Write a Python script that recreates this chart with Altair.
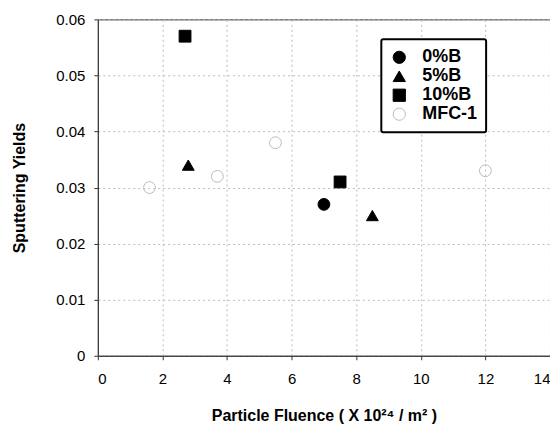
import altair as alt
import pandas as pd

series = ["0%B", "5%B", "10%B", "MFC-1"]
x_0B = [7.0]
y_0B = [0.027]
x_5B = [2.8, 8.5]
y_5B = [0.034, 0.025]
x_10B = [2.7, 7.5]
y_10B = [0.057, 0.031]
x_mfc = [1.6, 3.7, 5.5, 12.0]
y_mfc = [0.030, 0.032, 0.038, 0.033]

rows = []
for name, xs, ys in [("0%B", x_0B, y_0B), ("5%B", x_5B, y_5B),
                     ("10%B", x_10B, y_10B), ("MFC-1", x_mfc, y_mfc)]:
    for a, b in zip(xs, ys):
        rows.append({"series": name, "fluence": a, "yield": b})
df = pd.DataFrame(rows)

FONT = "Liberation Sans"

points = alt.Chart(df).mark_point(size=140, strokeWidth=1, opacity=1).encode(
    x=alt.X("fluence:Q", scale=alt.Scale(domain=[0, 14], nice=False),
            axis=alt.Axis(values=list(range(0, 15, 2)), title="Particle Fluence ( X 10²⁴ / m² )",
                          format="d", labelPadding=12, titlePadding=21)),
    y=alt.Y("yield:Q", scale=alt.Scale(domain=[0, 0.06], nice=False),
            axis=alt.Axis(values=[0, 0.01, 0.02, 0.03, 0.04, 0.05, 0.06],
                          title="Sputtering Yields", format="~g", labelPadding=9, titlePadding=28)),
    shape=alt.Shape("series:N", scale=alt.Scale(domain=series,
                    range=["circle", "triangle-up", "square", "circle"]),
                    legend=alt.Legend(title=None)),
    fill=alt.Fill("series:N", scale=alt.Scale(domain=series,
                  range=["black", "black", "black", "transparent"]), legend=alt.Legend(title=None)),
    stroke=alt.Stroke("series:N", scale=alt.Scale(domain=series,
                      range=["black", "black", "black", "#bbbbbb"]), legend=alt.Legend(title=None)),
)

chart = points.properties(
    width=453, height=337,
    autosize=alt.AutoSizeParams(type="none"),
    padding={"left": 90, "top": 11, "right": 0, "bottom": 80},
).configure_view(
    stroke="#333333", strokeWidth=1
).configure_axis(
    labelFont=FONT, titleFont=FONT, labelFontSize=15, titleFontSize=16,
    titleFontWeight="bold", labelColor="black", titleColor="black",
    domainColor="#333333", tickColor="#333333", tickSize=4,
    grid=True, gridColor="#bbbbbb", gridDash=[2, 3], gridWidth=1,
).configure_legend(
    orient="none", legendX=284, legendY=20,
    strokeColor="black", strokeWidth=2, padding=9, cornerRadius=2,
    fillColor="white",
    labelFont=FONT, labelFontSize=18, labelFontWeight="bold", labelColor="black",
    symbolSize=150, rowPadding=1, labelOffset=14, symbolStrokeWidth=1,
)

chart.save("out.html", embed_options={"renderer": "svg", "actions": False})
